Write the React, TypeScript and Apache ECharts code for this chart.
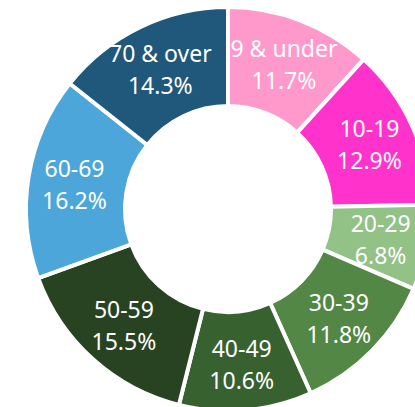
import React, { useEffect, useRef } from "react";
import * as echarts from "echarts";

const categories = ["9 & under", "10-19", "20-29", "30-39", "40-49", "50-59", "60-69", "70 & over"];
const values = [11.7, 12.9, 6.8, 11.8, 10.6, 15.5, 16.2, 14.3];
const colors = ["#FF99CC", "#FF33CC", "#92C285", "#538745", "#386130", "#284322", "#4DA6DA", "#1F587A"];

export default function App() {
  const ref = useRef<HTMLDivElement>(null);
  useEffect(() => {
    if (!ref.current) return;
    const chart = echarts.init(ref.current, null, { renderer: "svg" });
    chart.setOption({
      animation: false,
      backgroundColor: "#ffffff",
      series: [
        {
          type: "pie",
          center: [228, 209],
          radius: [103, 202],
          startAngle: 90,
          clockwise: true,
          avoidLabelOverlap: false,
          data: categories.map((name, i) => ({
            name,
            value: values[i],
            itemStyle: { color: colors[i] },
          })),
          itemStyle: { borderColor: "#ffffff", borderWidth: 4 },
          label: {
            show: true,
            position: "inside",
            formatter: (p: any) => `${p.name}\n${p.value.toFixed(1)}%`,
            color: "#ffffff",
            fontFamily: "Noto Sans",
            fontSize: 23,
            lineHeight: 32,
            align: "center",
          },
          labelLine: { show: false },
          emphasis: { disabled: true },
        },
      ],
    });
    return () => chart.dispose();
  }, []);
  return (
    <div
      ref={ref}
      style={{ position: "fixed", left: 0, top: 0, width: 415, height: 407 }}
    />
  );
}
